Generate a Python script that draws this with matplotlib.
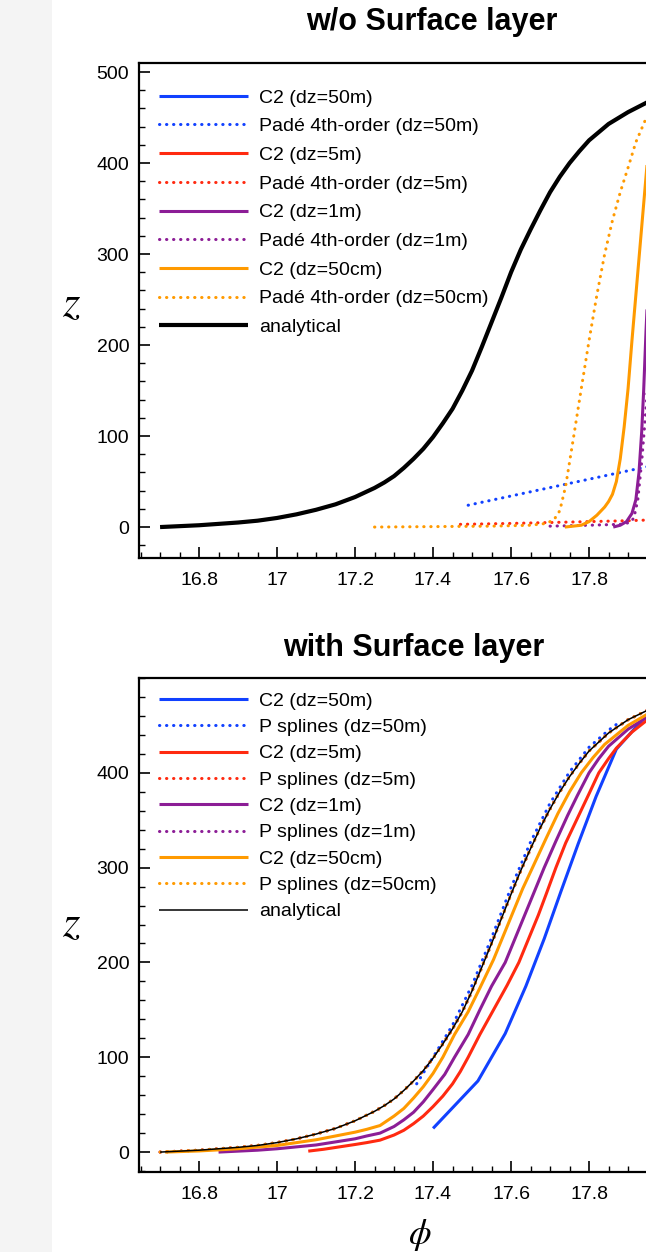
import numpy as np
import matplotlib
matplotlib.use("Agg")
import matplotlib.pyplot as plt
from matplotlib.patches import Rectangle

plt.rcParams['font.family'] = ['Liberation Sans', 'DejaVu Sans']
plt.rcParams['mathtext.fontset'] = 'stix'

# ---- data ----
# top panel: w/o surface layer
top_ana_phi = [16.70, 16.75, 16.80, 16.85, 16.90, 16.95, 17.00, 17.05, 17.10, 17.15, 17.20, 17.225,
               17.25, 17.275, 17.30, 17.325, 17.35, 17.375, 17.40, 17.425, 17.45, 17.475, 17.50,
               17.525, 17.55, 17.575, 17.60, 17.625, 17.65, 17.675, 17.70, 17.725, 17.75, 17.775,
               17.80, 17.85, 17.90, 17.95, 18.00, 18.05, 18.10]
top_ana_z = [0, 1, 2, 3.5, 5, 7, 10, 14, 19, 25, 33, 38, 43, 49, 56, 65, 75, 86, 99, 114, 130,
             150, 172, 198, 225, 252, 280, 305, 327, 348, 368, 385, 400, 413, 425, 443, 456, 467,
             475, 481, 485]

top_c2_50m_phi, top_c2_50m_z = [], []          # off screen
top_pade_50m_phi = [17.49, 18.01]
top_pade_50m_z = [24, 72]

top_c2_5m_phi, top_c2_5m_z = [], []            # off screen
top_pade_5m_phi = [17.47, 17.60, 17.70, 17.80, 17.90, 17.97]
top_pade_5m_z = [3, 4, 5, 6, 7, 8]

top_c2_1m_phi = [17.862, 17.88, 17.896, 17.91, 17.92, 17.928, 17.935, 17.94, 17.946, 17.955, 17.965]
top_c2_1m_z = [0, 2, 6, 15, 30, 60, 105, 150, 215, 300, 380]
top_pade_1m_phi = [17.70, 17.80, 17.88, 17.905, 17.915, 17.925, 17.935, 17.946, 17.96]
top_pade_1m_z = [1, 2, 3, 5, 10, 30, 72, 130, 225]

top_c2_50cm_phi = [17.738, 17.78, 17.80, 17.82, 17.84, 17.85, 17.86, 17.87, 17.88, 17.89, 17.90,
                   17.91, 17.92, 17.93, 17.94, 17.95, 17.96]
top_c2_50cm_z = [0, 2, 6, 13, 22, 28, 36, 50, 75, 110, 152, 205, 255, 305, 355, 405, 450]
top_pade_50cm_phi = [17.25, 17.40, 17.55, 17.65, 17.69, 17.71, 17.725, 17.74, 17.76, 17.78, 17.80,
                     17.82, 17.84, 17.86, 17.88, 17.90, 17.92, 17.945, 17.96]
top_pade_50cm_z = [0, 0.5, 1, 2, 4, 8, 18, 45, 98, 152, 205, 255, 300, 337, 368, 395, 423, 448, 462]

# bottom panel: with surface layer
bot_ana_phi = [16.70, 16.75, 16.80, 16.85, 16.90, 16.95, 17.00, 17.05, 17.10, 17.15, 17.20, 17.225,
               17.25, 17.275, 17.30, 17.325, 17.35, 17.375, 17.40, 17.425, 17.45, 17.475, 17.50,
               17.525, 17.55, 17.575, 17.60, 17.625, 17.65, 17.675, 17.70, 17.725, 17.75, 17.775,
               17.80, 17.85, 17.90, 17.95, 18.00, 18.05, 18.10]
bot_ana_z = [0, 1, 2, 3.5, 5, 7, 10, 14, 19, 25, 33, 38, 43, 49, 56, 65, 75, 86, 99, 114, 130,
             148, 170, 195, 220, 246, 272, 297, 320, 342, 362, 380, 396, 410, 423, 442, 456, 466,
             474, 480, 485]

bot_c2_50m_phi = [17.40, 17.515, 17.585, 17.638, 17.685, 17.728, 17.772, 17.818, 17.87, 17.935]
bot_c2_50m_z = [25, 75, 125, 175, 225, 275, 325, 375, 425, 455]
bot_ps_50m_phi = [17.358, 17.40, 17.45, 17.50, 17.55, 17.60, 17.65, 17.70, 17.75, 17.80, 17.85, 17.88]
bot_ps_50m_z = [72, 100, 134, 176, 226, 279, 327, 368, 401, 427, 445, 454]

bot_c2_5m_phi = [17.08, 17.12, 17.16, 17.20, 17.23, 17.264, 17.30, 17.325, 17.35, 17.375, 17.40,
                 17.425, 17.45, 17.47, 17.49, 17.52, 17.555, 17.59, 17.62, 17.645, 17.67, 17.69,
                 17.715, 17.74, 17.77, 17.80, 17.825, 17.85, 17.87, 17.91, 17.95, 18.00, 18.10]
bot_c2_5m_z = [1, 3, 5.5, 8, 10, 12.6, 18, 23, 30, 38, 48, 59, 72, 85, 100, 124, 150, 176, 200,
               225, 250, 272, 300, 326, 352, 378, 400, 415, 426, 443, 456, 467, 480]

bot_c2_1m_phi = [16.85, 16.95, 17.00, 17.10, 17.20, 17.23, 17.264, 17.30, 17.325, 17.35, 17.375,
                 17.40, 17.43, 17.455, 17.49, 17.52, 17.55, 17.585, 17.61, 17.635, 17.66, 17.685,
                 17.715, 17.745, 17.77, 17.80, 17.825, 17.85, 17.90, 17.95, 18.00, 18.10]
bot_c2_1m_z = [0, 2, 3.5, 7.5, 14, 17, 20, 27, 34, 42, 53, 66, 82, 100, 124, 150, 175, 200, 225,
               250, 275, 300, 328, 355, 376, 400, 415, 428, 446, 459, 469, 481]

bot_c2_50cm_phi = [16.713, 16.80, 16.90, 17.00, 17.10, 17.20, 17.23, 17.264, 17.30, 17.325, 17.35,
                   17.375, 17.40, 17.425, 17.455, 17.49, 17.52, 17.555, 17.58, 17.605, 17.63,
                   17.655, 17.69, 17.72, 17.75, 17.78, 17.81, 17.84, 17.90, 17.95, 18.00, 18.10]
bot_c2_50cm_z = [0, 1.2, 3.5, 7, 13, 21, 24, 28, 38, 46, 57, 69, 83, 100, 124, 148, 173, 203, 228,
                 253, 278, 300, 331, 357, 380, 400, 416, 430, 450, 462, 471, 483]

colors = {'50m': '#1141ff', '5m': '#ff2a10', '1m': '#8c1d96', '50cm': '#ff9a00'}

W, H = 646, 1252
fig = plt.figure(figsize=(W / 100, H / 100), dpi=100)
fig.patches.append(Rectangle((0, 0), 52 / W, 1, transform=fig.transFigure,
                             facecolor='#f4f4f4', edgecolor='none', zorder=-10))

dot = (0, (0.1, 2.2))


def style_axes(ax, ylim, yticks):
    ax.set_xlim(16.646, 16.646 + 572 / 390)
    ax.set_ylim(*ylim)
    ax.set_xticks([16.8, 17.0, 17.2, 17.4, 17.6, 17.8])
    ax.set_xticklabels(['16.8', '17', '17.2', '17.4', '17.6', '17.8'])
    ax.set_xticks(np.arange(16.65, 18.12, 0.05), minor=True)
    ax.set_yticks(yticks)
    ax.set_yticks(np.arange(-20, 511, 20), minor=True)
    ax.tick_params(which='both', direction='in', top=False, right=False, labelsize=14)
    ax.tick_params(which='major', length=8, width=1.2)
    ax.tick_params(which='minor', length=4, width=1.0)
    ax.tick_params(axis='x', pad=10)
    ax.tick_params(axis='y', pad=7)
    for s in ax.spines.values():
        s.set_linewidth(1.6)


def add_line(ax, x, y, c, ls='-', lw=2.2, label=None):
    ax.plot(x, y, color=c, lw=lw, linestyle=ls, label=label,
            dash_capstyle='round', solid_capstyle='butt', solid_joinstyle='round')


# ---- top panel ----
ax1 = fig.add_axes([139 / W, (H - 558) / H, 572 / W, 495 / H])
add_line(ax1, top_c2_50m_phi, top_c2_50m_z, colors['50m'], label='C2 (dz=50m)')
add_line(ax1, top_pade_50m_phi, top_pade_50m_z, colors['50m'], dot, label='Padé 4th-order (dz=50m)')
add_line(ax1, top_c2_5m_phi, top_c2_5m_z, colors['5m'], label='C2 (dz=5m)')
add_line(ax1, top_pade_5m_phi, top_pade_5m_z, colors['5m'], dot, label='Padé 4th-order (dz=5m)')
add_line(ax1, top_c2_1m_phi, top_c2_1m_z, colors['1m'], label='C2 (dz=1m)')
add_line(ax1, top_pade_1m_phi, top_pade_1m_z, colors['1m'], dot, label='Padé 4th-order (dz=1m)')
add_line(ax1, top_c2_50cm_phi, top_c2_50cm_z, colors['50cm'], label='C2 (dz=50cm)')
add_line(ax1, top_pade_50cm_phi, top_pade_50cm_z, colors['50cm'], dot, label='Padé 4th-order (dz=50cm)')
add_line(ax1, top_ana_phi, top_ana_z, 'black', lw=3.0, label='analytical')
style_axes(ax1, (-34, 510), [0, 100, 200, 300, 400, 500])
ax1.legend(loc='upper left', bbox_to_anchor=(20 / 572, (558 - 89) / 495), frameon=False,
           fontsize=14, handlelength=4.6, handletextpad=0.55, labelspacing=0.57,
           borderpad=0, borderaxespad=0)

# ---- bottom panel ----
ax2 = fig.add_axes([139 / W, (H - 1172) / H, 572 / W, 494 / H])
add_line(ax2, bot_c2_50m_phi, bot_c2_50m_z, colors['50m'], label='C2 (dz=50m)')
add_line(ax2, bot_ps_50m_phi, bot_ps_50m_z, colors['50m'], dot, label='P splines (dz=50m)')
add_line(ax2, bot_c2_5m_phi, bot_c2_5m_z, colors['5m'], label='C2 (dz=5m)')
add_line(ax2, bot_ana_phi, bot_ana_z, colors['5m'], dot, label='P splines (dz=5m)')
add_line(ax2, bot_c2_1m_phi, bot_c2_1m_z, colors['1m'], label='C2 (dz=1m)')
add_line(ax2, bot_ana_phi, bot_ana_z, colors['1m'], dot, label='P splines (dz=1m)')
add_line(ax2, bot_c2_50cm_phi, bot_c2_50cm_z, colors['50cm'], label='C2 (dz=50cm)')
add_line(ax2, bot_ana_phi, bot_ana_z, colors['50cm'], dot, label='P splines (dz=50cm)')
add_line(ax2, bot_ana_phi, bot_ana_z, 'black', lw=1.1, label='analytical')
style_axes(ax2, (-21, 496), [0, 100, 200, 300, 400])
ax2.legend(loc='upper left', bbox_to_anchor=(20 / 572, (1172 - 692) / 494), frameon=False,
           fontsize=14, handlelength=4.6, handletextpad=0.55, labelspacing=0.45,
           borderpad=0, borderaxespad=0)

# ---- titles and axis labels ----
fig.text(432 / W, 1 - 22 / H, 'w/o Surface layer', ha='center', va='center',
         fontsize=22, fontweight='bold')
fig.text(414 / W, 1 - 648 / H, 'with Surface layer', ha='center', va='center',
         fontsize=22, fontweight='bold')
fig.text(71 / W, 1 - 305 / H, '$z$', ha='center', va='center', fontsize=32)
fig.text(71 / W, 1 - 925 / H, '$z$', ha='center', va='center', fontsize=32)
fig.text(420 / W, 1 - 1235 / H, r'$\phi$', ha='center', va='center', fontsize=26)

fig.savefig('out.png', dpi=100)
